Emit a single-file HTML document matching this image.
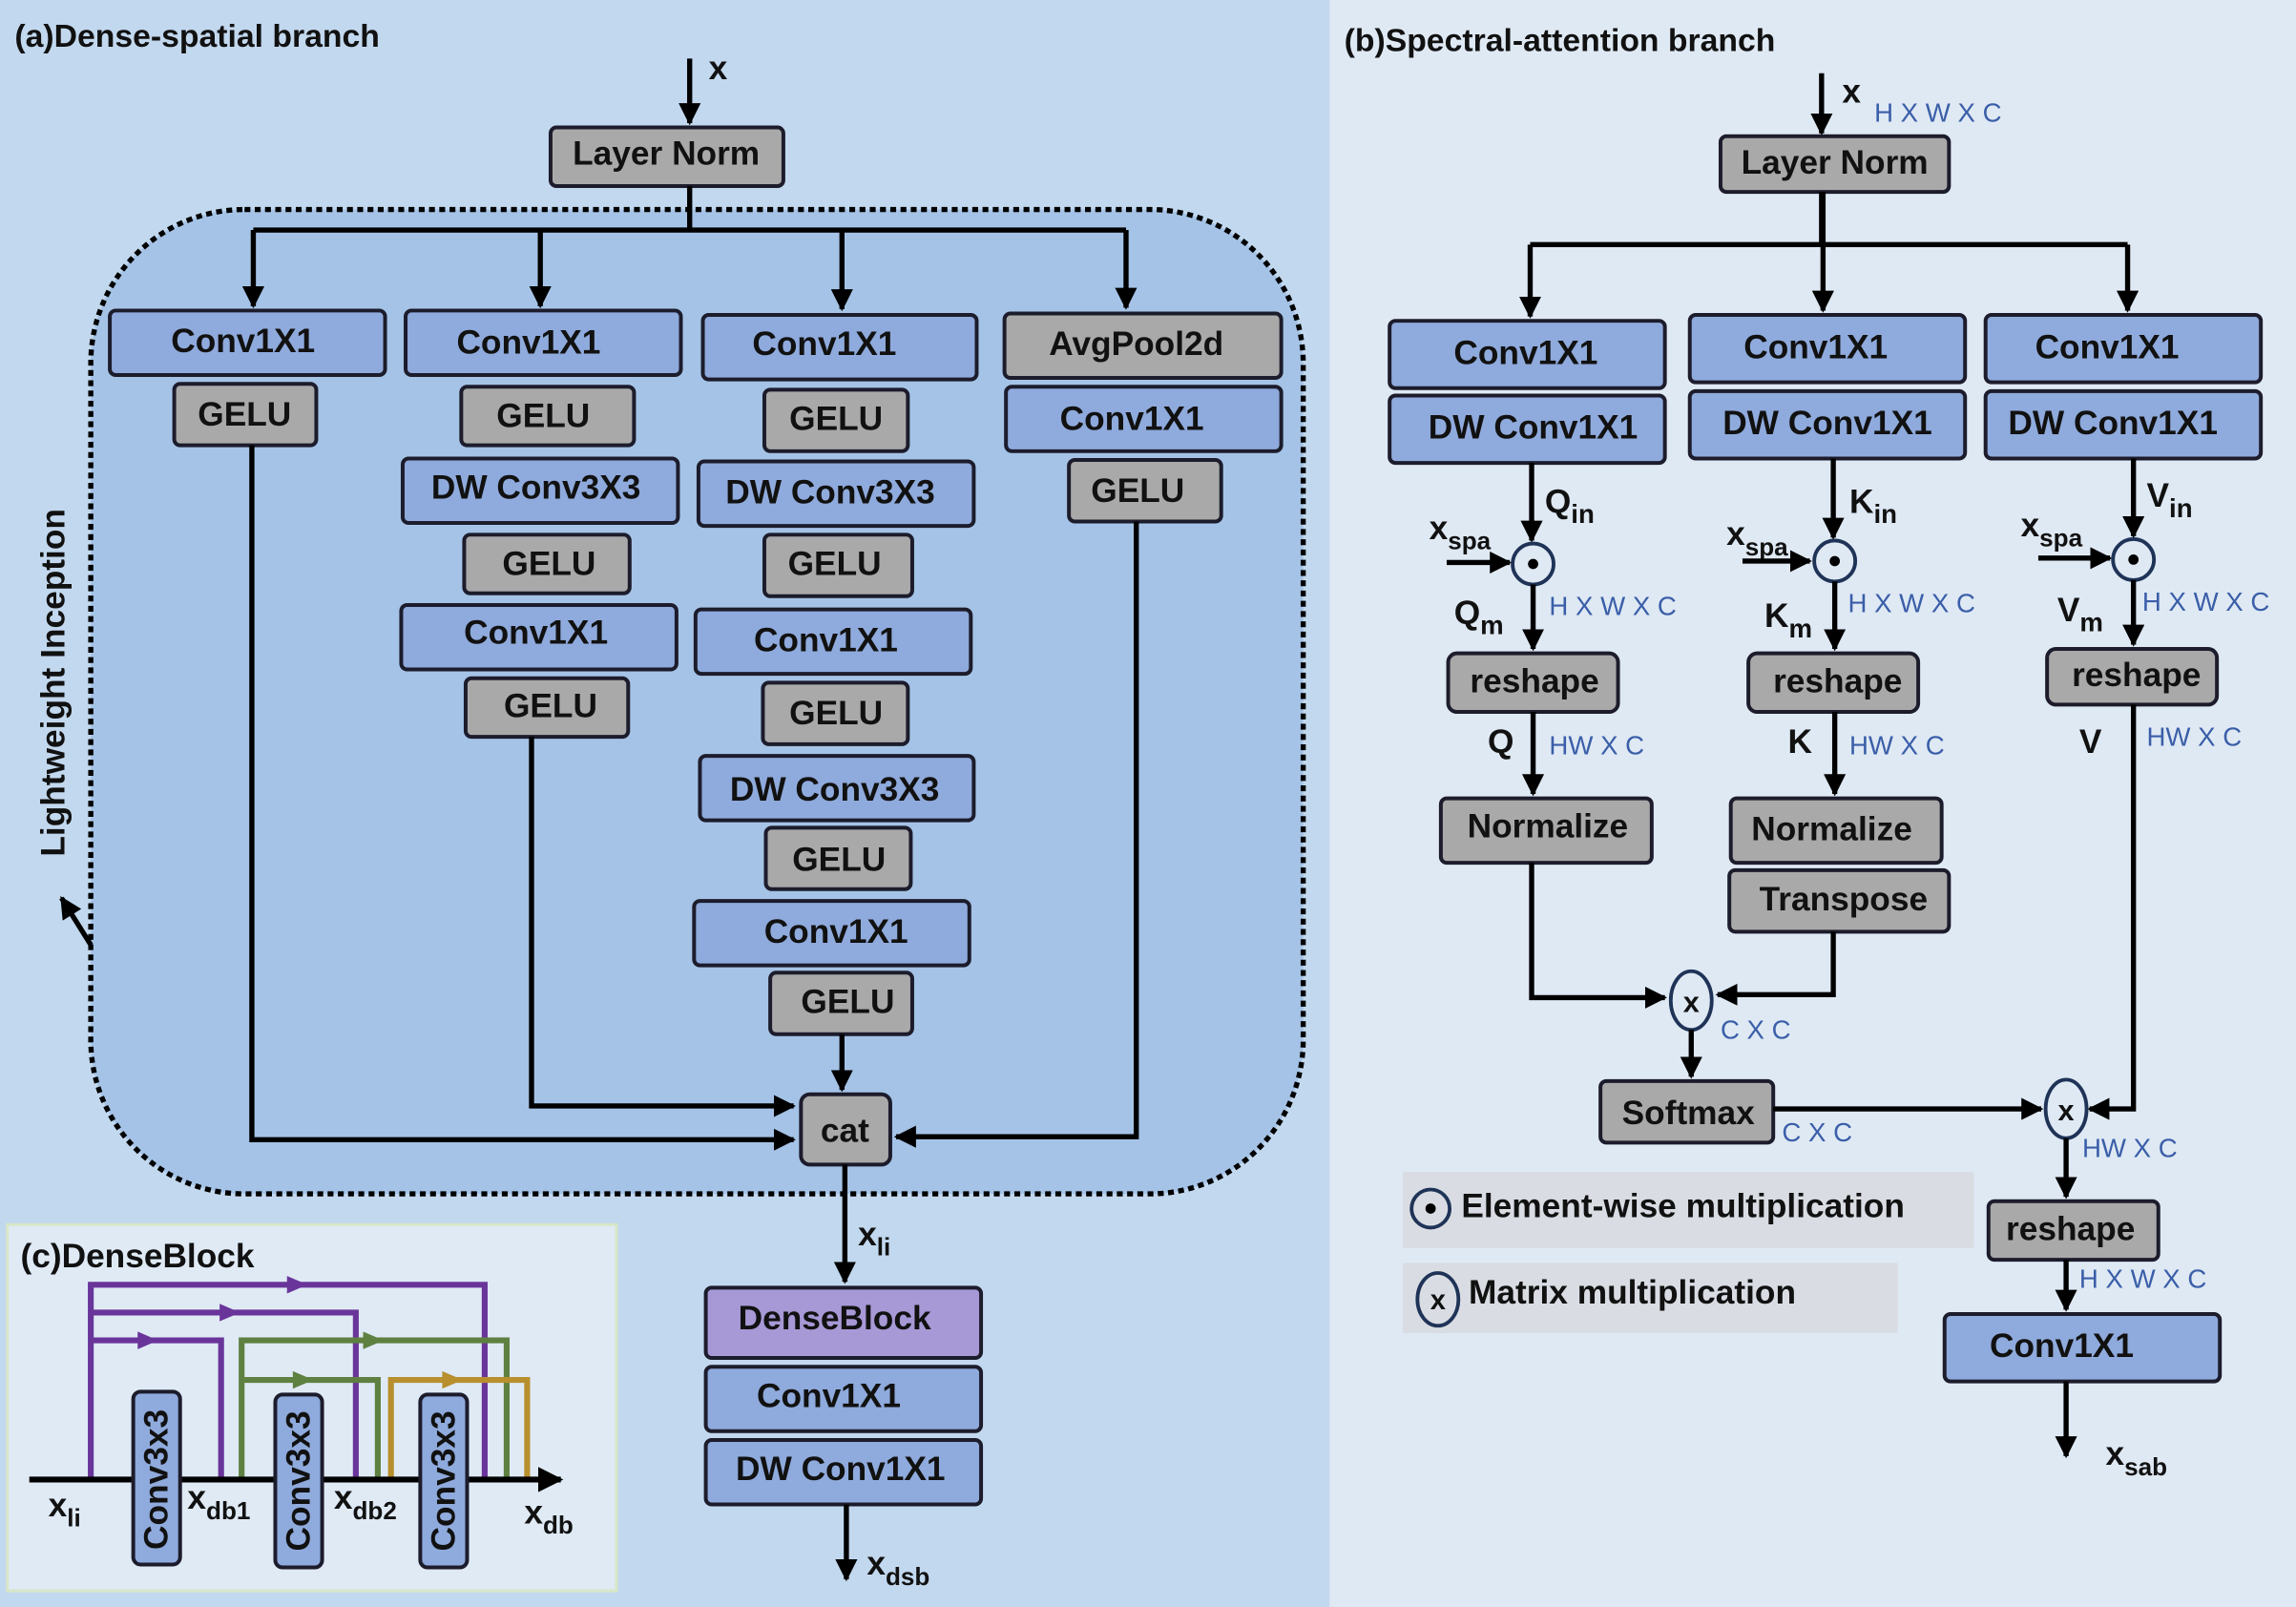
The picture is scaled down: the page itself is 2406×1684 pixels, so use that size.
<!DOCTYPE html>
<html><head><meta charset="utf-8"><style>
html,body{margin:0;padding:0;background:#c2d8ee;}
svg{display:block}
text{font-family:"Liberation Sans",sans-serif;font-weight:bold;}
.b{font-size:23px;fill:#111;text-anchor:middle;dominant-baseline:central;}
.lb{font-size:23px;fill:#111;}
.dim{font-size:18px;fill:#3a5ea8;font-weight:normal;}
.bx{stroke:#1c1c2c;stroke-width:2.6;}
.bl{fill:#8faadc;}
.gr{fill:#a9a9a9;}
.ln{stroke:#000;stroke-width:3.5;fill:none;}
</style></head><body>
<svg width="2406" height="1684" viewBox="0 0 1568 1097" preserveAspectRatio="none" xmlns="http://www.w3.org/2000/svg">
<defs>
<marker id="a" viewBox="0 0 10 10" refX="9" refY="5" markerWidth="4.3" markerHeight="4.3" orient="auto"><path d="M0,0L10,5L0,10z" fill="#000"/></marker>
</defs>
<rect x="0" y="0" width="908" height="1097" fill="#c2d8ee"/>
<rect x="908" y="0" width="660" height="1097" fill="#dfe9f4"/>

<!-- (a) -->
<text x="10" y="32" class="lb" style="font-size:22px">(a)Dense-spatial branch</text>
<rect x="62" y="143" width="828" height="672" rx="105" fill="#a5c3e6" stroke="#000" stroke-width="3.5" stroke-dasharray="4,3"/>
<line class="ln" x1="471" y1="40" x2="471" y2="84" marker-end="url(#a)"/>
<text x="484" y="54" class="lb">x</text>
<rect class="bx gr" x="376" y="87" width="159" height="40" rx="4"/><text class="b" x="455" y="105">Layer Norm</text>
<path class="ln" d="M471,127V157M173,157H769"/>
<line class="ln" x1="173" y1="157" x2="173" y2="209" marker-end="url(#a)"/>
<line class="ln" x1="369" y1="157" x2="369" y2="209" marker-end="url(#a)"/>
<line class="ln" x1="575" y1="157" x2="575" y2="211" marker-end="url(#a)"/>
<line class="ln" x1="769" y1="157" x2="769" y2="210" marker-end="url(#a)"/>

<rect class="bx bl" x="75" y="212" width="188" height="44" rx="4"/><text class="b" x="166" y="233">Conv1X1</text>
<rect class="bx gr" x="119" y="262" width="97" height="42" rx="4"/><text class="b" x="167" y="283">GELU</text>
<path class="ln" d="M172,304V778H542" marker-end="url(#a)"/>

<rect class="bx bl" x="277" y="212" width="188" height="44" rx="4"/><text class="b" x="361" y="234">Conv1X1</text>
<rect class="bx gr" x="315" y="264" width="118" height="40" rx="4"/><text class="b" x="371" y="284">GELU</text>
<rect class="bx bl" x="275" y="313" width="188" height="44" rx="4"/><text class="b" x="366" y="333">DW Conv3X3</text>
<rect class="bx gr" x="317" y="365" width="113" height="40" rx="4"/><text class="b" x="375" y="385">GELU</text>
<rect class="bx bl" x="274" y="413" width="188" height="44" rx="4"/><text class="b" x="366" y="432">Conv1X1</text>
<rect class="bx gr" x="318" y="463" width="111" height="40" rx="4"/><text class="b" x="376" y="482">GELU</text>
<path class="ln" d="M363,503V755H542" marker-end="url(#a)"/>

<rect class="bx bl" x="480" y="215" width="187" height="44" rx="4"/><text class="b" x="563" y="235">Conv1X1</text>
<rect class="bx gr" x="522" y="266" width="98" height="42" rx="4"/><text class="b" x="571" y="286">GELU</text>
<rect class="bx bl" x="477" y="315" width="188" height="44" rx="4"/><text class="b" x="567" y="336">DW Conv3X3</text>
<rect class="bx gr" x="522" y="365" width="101" height="42" rx="4"/><text class="b" x="570" y="385">GELU</text>
<rect class="bx bl" x="475" y="416" width="188" height="44" rx="4"/><text class="b" x="564" y="437">Conv1X1</text>
<rect class="bx gr" x="521" y="466" width="99" height="42" rx="4"/><text class="b" x="571" y="487">GELU</text>
<rect class="bx bl" x="478" y="516" width="187" height="44" rx="4"/><text class="b" x="570" y="539">DW Conv3X3</text>
<rect class="bx gr" x="523" y="565" width="99" height="42" rx="4"/><text class="b" x="573" y="587">GELU</text>
<rect class="bx bl" x="474" y="615" width="188" height="44" rx="4"/><text class="b" x="571" y="636">Conv1X1</text>
<rect class="bx gr" x="526" y="664" width="97" height="42" rx="4"/><text class="b" x="579" y="684">GELU</text>
<line class="ln" x1="575" y1="706" x2="575" y2="744" marker-end="url(#a)"/>

<rect class="bx gr" x="686" y="214" width="189" height="44" rx="4"/><text class="b" x="776" y="235">AvgPool2d</text>
<rect class="bx bl" x="687" y="264" width="188" height="44" rx="4"/><text class="b" x="773" y="286">Conv1X1</text>
<rect class="bx gr" x="730" y="314" width="104" height="42" rx="4"/><text class="b" x="777" y="335">GELU</text>
<path class="ln" d="M776,356V776H612" marker-end="url(#a)"/>

<rect class="bx gr" x="547" y="747" width="61" height="48" rx="6"/><text class="b" x="577" y="772">cat</text>
<line class="ln" x1="577" y1="795" x2="577" y2="875" marker-end="url(#a)"/>
<text x="586" y="850" class="lb">x<tspan font-size="17" dy="7">li</tspan></text>
<rect class="bx" fill="#a798d6" x="482" y="879" width="188" height="48" rx="4"/><text class="b" x="570" y="900">DenseBlock</text>
<rect class="bx bl" x="482" y="933" width="188" height="44" rx="4"/><text class="b" x="566" y="953">Conv1X1</text>
<rect class="bx bl" x="482" y="983" width="188" height="44" rx="4"/><text class="b" x="574" y="1003">DW Conv1X1</text>
<line class="ln" x1="578" y1="1027" x2="578" y2="1078" marker-end="url(#a)"/>
<text x="592" y="1075" class="lb">x<tspan font-size="17" dy="7">dsb</tspan></text>

<text x="44" y="466" class="lb" text-anchor="middle" transform="rotate(-90 44 466)">Lightweight Inception</text>
<line class="ln" x1="62" y1="645" x2="42" y2="613" marker-end="url(#a)"/>

<!-- (c) -->
<rect x="5" y="836" width="416" height="250" fill="#dfeaf5" stroke="#d8e6c8" stroke-width="2"/>
<text x="14" y="865" class="lb">(c)DenseBlock</text>
<g stroke-width="4" fill="none">
<path stroke="#6a359a" d="M62,1010V877H331V1010M62,896H243V1010M62,915H151V1010"/>
<path stroke="#5e8040" d="M165,1010V915H346V1010M165,942H258V1010"/>
<path stroke="#b88f2d" d="M267,1010V942H360V1010"/>
</g>
<g>
<path d="M196,871L210,877L196,883z" fill="#6a359a"/>
<path d="M150,890L164,896L150,902z" fill="#6a359a"/>
<path d="M94,909L108,915L94,921z" fill="#6a359a"/>
<path d="M248,909L262,915L248,921z" fill="#5e8040"/>
<path d="M200,936L214,942L200,948z" fill="#5e8040"/>
<path d="M302,936L316,942L302,948z" fill="#b88f2d"/>
</g>
<line x1="20" y1="1010" x2="383" y2="1010" stroke="#000" stroke-width="4" marker-end="url(#a)"/>
<rect class="bx bl" x="91" y="950" width="32" height="118" rx="5"/>
<rect class="bx bl" x="188" y="952" width="32" height="118" rx="5"/>
<rect class="bx bl" x="287" y="952" width="32" height="118" rx="5"/>
<text class="b" transform="translate(107 1010) rotate(-90)">Conv3x3</text>
<text class="b" transform="translate(204 1011) rotate(-90)">Conv3x3</text>
<text class="b" transform="translate(303 1011) rotate(-90)">Conv3x3</text>
<text x="33" y="1035" class="lb">x<tspan font-size="17" dy="7">li</tspan></text>
<text x="128" y="1030" class="lb">x<tspan font-size="17" dy="7">db1</tspan></text>
<text x="228" y="1030" class="lb">x<tspan font-size="17" dy="7">db2</tspan></text>
<text x="358" y="1040" class="lb">x<tspan font-size="17" dy="7">db</tspan></text>

<!-- (b) -->
<text x="918" y="35" class="lb" style="font-size:22px">(b)Spectral-attention branch</text>
<line class="ln" x1="1244" y1="50" x2="1244" y2="91" marker-end="url(#a)"/>
<text x="1258" y="70" class="lb">x</text><text x="1280" y="83" class="dim">H X W X C</text>
<rect class="bx gr" x="1175" y="93" width="156" height="38" rx="4"/><text class="b" x="1253" y="111">Layer Norm</text>
<path class="ln" d="M1244,131V167M1045,167H1453"/>
<line class="ln" x1="1045" y1="167" x2="1045" y2="216" marker-end="url(#a)"/>
<line class="ln" x1="1245" y1="131" x2="1245" y2="212" marker-end="url(#a)"/>
<line class="ln" x1="1453" y1="167" x2="1453" y2="212" marker-end="url(#a)"/>

<rect class="bx bl" x="949" y="219" width="188" height="46" rx="4"/><text class="b" x="1042" y="241">Conv1X1</text>
<rect class="bx bl" x="949" y="270" width="188" height="46" rx="4"/><text class="b" x="1047" y="292">DW Conv1X1</text>
<rect class="bx bl" x="1154" y="215" width="188" height="46" rx="4"/><text class="b" x="1240" y="237">Conv1X1</text>
<rect class="bx bl" x="1154" y="267" width="188" height="46" rx="4"/><text class="b" x="1248" y="289">DW Conv1X1</text>
<rect class="bx bl" x="1356" y="215" width="188" height="46" rx="4"/><text class="b" x="1439" y="237">Conv1X1</text>
<rect class="bx bl" x="1356" y="267" width="188" height="46" rx="4"/><text class="b" x="1443" y="289">DW Conv1X1</text>

<!-- col1 -->
<line class="ln" x1="1046" y1="316" x2="1046" y2="369" marker-end="url(#a)"/>
<text x="1055" y="350" class="lb">Q<tspan font-size="18" dy="7">in</tspan></text>
<text x="976" y="368" class="lb">x<tspan font-size="17" dy="7">spa</tspan></text>
<line class="ln" x1="988" y1="384" x2="1031" y2="384" marker-end="url(#a)"/>
<circle cx="1047" cy="385" r="14" fill="none" stroke="#1f3357" stroke-width="2.5"/><circle cx="1047" cy="385" r="3.5" fill="#000"/>
<text x="993" y="426" class="lb">Q<tspan font-size="18" dy="7">m</tspan></text>
<text x="1058" y="420" class="dim">H X W X C</text>
<line class="ln" x1="1047" y1="399" x2="1047" y2="443" marker-end="url(#a)"/>
<rect class="bx gr" x="989" y="446" width="116" height="40" rx="6"/><text class="b" x="1048" y="465">reshape</text>
<text x="1016" y="514" class="lb">Q</text><text x="1058" y="515" class="dim">HW X C</text>
<line class="ln" x1="1047" y1="486" x2="1047" y2="542" marker-end="url(#a)"/>
<rect class="bx gr" x="984" y="545" width="144" height="44" rx="4"/><text class="b" x="1057" y="564">Normalize</text>
<path class="ln" d="M1046,589V681H1137" marker-end="url(#a)"/>

<!-- col2 -->
<line class="ln" x1="1252" y1="313" x2="1252" y2="367" marker-end="url(#a)"/>
<text x="1263" y="350" class="lb">K<tspan font-size="18" dy="7">in</tspan></text>
<text x="1179" y="372" class="lb">x<tspan font-size="17" dy="7">spa</tspan></text>
<line class="ln" x1="1190" y1="383" x2="1236" y2="383" marker-end="url(#a)"/>
<circle cx="1253" cy="383" r="14" fill="none" stroke="#1f3357" stroke-width="2.5"/><circle cx="1253" cy="383" r="3.5" fill="#000"/>
<text x="1205" y="428" class="lb">K<tspan font-size="18" dy="7">m</tspan></text>
<text x="1262" y="418" class="dim">H X W X C</text>
<line class="ln" x1="1253" y1="397" x2="1253" y2="443" marker-end="url(#a)"/>
<rect class="bx gr" x="1194" y="446" width="116" height="40" rx="6"/><text class="b" x="1255" y="465">reshape</text>
<text x="1221" y="514" class="lb">K</text><text x="1263" y="515" class="dim">HW X C</text>
<line class="ln" x1="1253" y1="486" x2="1253" y2="542" marker-end="url(#a)"/>
<rect class="bx gr" x="1182" y="545" width="144" height="44" rx="4"/><text class="b" x="1251" y="566">Normalize</text>
<rect class="bx gr" x="1181" y="594" width="150" height="42" rx="4"/><text class="b" x="1259" y="614">Transpose</text>
<path class="ln" d="M1252,636V679H1173" marker-end="url(#a)"/>

<ellipse cx="1155" cy="683" rx="14" ry="20" fill="none" stroke="#1f3357" stroke-width="2.5"/><text class="b" x="1155" y="684" style="font-size:20px">x</text>
<text x="1175" y="709" class="dim">C X C</text>
<line class="ln" x1="1155" y1="703" x2="1155" y2="735" marker-end="url(#a)"/>
<rect class="bx gr" x="1093" y="738" width="118" height="42" rx="4"/><text class="b" x="1153" y="760">Softmax</text>
<text x="1217" y="779" class="dim">C X C</text>
<line class="ln" x1="1211" y1="757" x2="1394" y2="757" marker-end="url(#a)"/>

<!-- col3 -->
<line class="ln" x1="1457" y1="313" x2="1457" y2="366" marker-end="url(#a)"/>
<text x="1466" y="346" class="lb">V<tspan font-size="18" dy="7">in</tspan></text>
<text x="1380" y="366" class="lb">x<tspan font-size="17" dy="7">spa</tspan></text>
<line class="ln" x1="1392" y1="381" x2="1441" y2="381" marker-end="url(#a)"/>
<circle cx="1457" cy="382" r="14" fill="none" stroke="#1f3357" stroke-width="2.5"/><circle cx="1457" cy="382" r="3.5" fill="#000"/>
<text x="1405" y="424" class="lb">V<tspan font-size="18" dy="7">m</tspan></text>
<text x="1463" y="417" class="dim">H X W X C</text>
<line class="ln" x1="1457" y1="396" x2="1457" y2="440" marker-end="url(#a)"/>
<rect class="bx gr" x="1398" y="443" width="116" height="38" rx="6"/><text class="b" x="1459" y="461">reshape</text>
<text x="1420" y="514" class="lb">V</text><text x="1466" y="509" class="dim">HW X C</text>
<path class="ln" d="M1457,481V757H1427" marker-end="url(#a)"/>

<ellipse cx="1411" cy="757" rx="14" ry="20" fill="none" stroke="#1f3357" stroke-width="2.5"/><text class="b" x="1411" y="758" style="font-size:20px">x</text>
<text x="1422" y="790" class="dim">HW X C</text>
<line class="ln" x1="1411" y1="777" x2="1411" y2="817" marker-end="url(#a)"/>
<rect class="bx gr" x="1358" y="820" width="116" height="40" rx="4"/><text class="b" x="1414" y="839">reshape</text>
<text x="1420" y="879" class="dim">H X W X C</text>
<line class="ln" x1="1411" y1="860" x2="1411" y2="894" marker-end="url(#a)"/>
<rect class="bx bl" x="1328" y="897" width="188" height="46" rx="4"/><text class="b" x="1408" y="919">Conv1X1</text>
<line class="ln" x1="1411" y1="943" x2="1411" y2="994" marker-end="url(#a)"/>
<text x="1438" y="1000" class="lb">x<tspan font-size="17" dy="7">sab</tspan></text>

<!-- legend -->
<rect x="958" y="800" width="390" height="52" fill="#d9dde3"/>
<circle cx="977" cy="825" r="13" fill="none" stroke="#1f3357" stroke-width="2.5"/><circle cx="977" cy="825" r="3.5" fill="#000"/>
<text x="998" y="831" class="lb">Element-wise multiplication</text>
<rect x="958" y="862" width="338" height="48" fill="#d9dde3"/>
<ellipse cx="982" cy="887" rx="14" ry="18" fill="none" stroke="#1f3357" stroke-width="2.5"/><text class="b" x="982" y="888" style="font-size:19px">x</text>
<text x="1003" y="890" class="lb">Matrix multiplication</text>
</svg>
</body></html>
